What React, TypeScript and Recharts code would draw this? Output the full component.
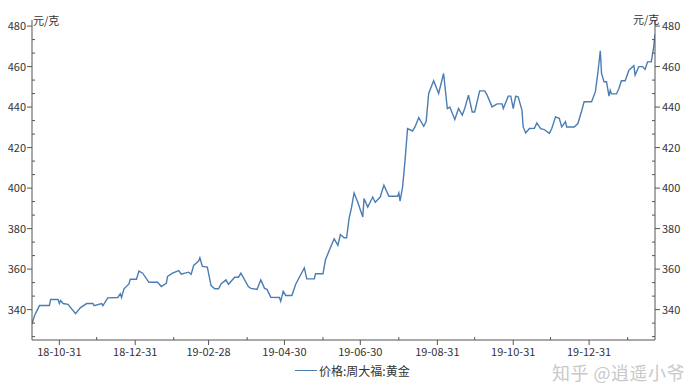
import React from 'react'
import { ComposedChart, Line, XAxis, YAxis, CartesianGrid } from 'recharts'

const C = { line: '#4a7db3', axis: '#555', text: '#333', grid: '#f0f0f0' }
const FONT = '"Noto Sans CJK SC", "DejaVu Sans", sans-serif'

const dates = [
  '2018-10-09', '2018-10-11', '2018-10-15', '2018-10-23', '2018-10-24', '2018-10-30', '2018-10-31', '2018-11-01',
  '2018-11-03', '2018-11-07', '2018-11-13', '2018-11-17', '2018-11-22', '2018-11-27', '2018-11-28', '2018-12-04',
  '2018-12-05', '2018-12-09', '2018-12-17', '2018-12-19', '2018-12-20', '2018-12-22', '2018-12-26', '2018-12-27',
  '2019-01-01', '2019-01-03', '2019-01-06', '2019-01-11', '2019-01-18', '2019-01-21', '2019-01-25', '2019-01-26',
  '2019-01-30', '2019-02-04', '2019-02-06', '2019-02-12', '2019-02-14', '2019-02-16', '2019-02-20', '2019-02-21',
  '2019-02-23', '2019-02-27', '2019-03-02', '2019-03-05', '2019-03-08', '2019-03-10', '2019-03-14', '2019-03-16',
  '2019-03-21', '2019-03-24', '2019-03-26', '2019-04-01', '2019-04-03', '2019-04-08', '2019-04-11', '2019-04-14',
  '2019-04-16', '2019-04-19', '2019-04-26', '2019-04-27', '2019-04-29', '2019-05-01', '2019-05-06', '2019-05-09',
  '2019-05-12', '2019-05-16', '2019-05-18', '2019-05-24', '2019-05-25', '2019-05-31', '2019-06-02', '2019-06-05',
  '2019-06-09', '2019-06-12', '2019-06-14', '2019-06-17', '2019-06-19', '2019-06-21', '2019-06-23', '2019-06-25',
  '2019-06-28', '2019-07-02', '2019-07-03', '2019-07-06', '2019-07-10', '2019-07-12', '2019-07-16', '2019-07-19',
  '2019-07-23', '2019-07-30', '2019-07-31', '2019-08-01', '2019-08-03', '2019-08-05', '2019-08-07', '2019-08-11',
  '2019-08-13', '2019-08-16', '2019-08-20', '2019-08-22', '2019-08-24', '2019-08-28', '2019-09-01', '2019-09-05',
  '2019-09-08', '2019-09-10', '2019-09-14', '2019-09-17', '2019-09-20', '2019-09-22', '2019-09-25', '2019-09-28',
  '2019-09-30', '2019-10-04', '2019-10-08', '2019-10-10', '2019-10-14', '2019-10-18', '2019-10-22', '2019-10-23',
  '2019-10-27', '2019-10-29', '2019-10-31', '2019-11-02', '2019-11-04', '2019-11-07', '2019-11-08', '2019-11-10',
  '2019-11-13', '2019-11-17', '2019-11-19', '2019-11-22', '2019-11-25', '2019-11-29', '2019-12-01', '2019-12-04',
  '2019-12-07', '2019-12-09', '2019-12-12', '2019-12-13', '2019-12-19', '2019-12-22', '2019-12-25', '2019-12-27',
  '2020-01-02', '2020-01-05', '2020-01-07', '2020-01-09', '2020-01-10', '2020-01-12', '2020-01-14', '2020-01-16',
  '2020-01-17', '2020-01-18', '2020-01-22', '2020-01-24', '2020-01-26', '2020-01-29', '2020-02-01', '2020-02-05',
  '2020-02-06', '2020-02-09', '2020-02-12', '2020-02-14', '2020-02-16', '2020-02-19', '2020-02-21', '2020-02-22',
]

// 价格:周大福:黄金, 元/克
const prices = [
  333, 337, 342, 342, 345, 345, 343, 344.5,
  343, 342.6, 338, 341, 343, 343, 342, 343,
  342, 345.8, 346, 347.8, 346, 350.3, 352.7, 355,
  355, 359, 358, 353.5, 353.5, 351.4, 353, 356.4,
  358, 359.3, 357.5, 358.5, 357.5, 361.8, 364, 365.6,
  361.3, 361, 351.9, 350.3, 350.3, 352.7, 354.7, 352.5,
  356, 356, 358, 351.4, 350.5, 350, 354.7, 350.5,
  350, 346.1, 346, 344.1, 349, 347, 347, 352.4,
  356, 360.6, 355.2, 355.2, 357.7, 357.7, 364.6, 369.2,
  375, 371.7, 377.1, 375.5, 375.5, 385, 390.6, 397.6,
  393, 385.7, 394.8, 390.6, 395.6, 393, 395.6, 401.4,
  396, 396, 397.6, 393.6, 400.5, 413.7, 429.4, 428.2,
  430.2, 434.8, 430.5, 433, 446.7, 453, 446.7, 456.6,
  439.3, 440, 433.9, 439.3, 436, 439.3, 445.9, 437.6,
  437.6, 448, 448, 445.9, 440.1, 441.6, 441.6, 439.3,
  445.4, 445.4, 439.3, 445.4, 445, 438.5, 430.2, 427.2,
  429.4, 429.5, 432.2, 429.4, 428.9, 427, 429.4, 435.2,
  434.5, 430.2, 432.8, 430.2, 430.2, 431.9, 438.1, 442.6,
  442.6, 447.5, 456.6, 467.8, 456.6, 452.5, 452.5, 445.4,
  448.3, 446.5, 446.5, 449.2, 453, 453, 458.2, 460.4,
  455.8, 460, 460, 458.6, 462.3, 462.3, 469.8, 476,
]

const xTickDates = [
  '2018-10-31', '2018-11-30', '2018-12-31', '2019-01-31', '2019-02-28', '2019-03-31', '2019-04-30', '2019-05-31',
  '2019-06-30', '2019-07-31', '2019-08-31', '2019-09-30', '2019-10-31', '2019-11-30', '2019-12-31', '2020-01-31',
]
const xLabelDates = ['2018-10-31', '2018-12-31', '2019-02-28', '2019-04-30', '2019-06-30', '2019-08-31', '2019-10-31', '2019-12-31']
const yMajorTicks = [340, 360, 380, 400, 420, 440, 460, 480]
const xDomainDates = ['2018-10-09', '2020-02-22']
const yDomain = [325, 483]

const ts = (d: string) => Date.parse(d + 'T00:00:00Z')
const data = dates.map((d, i) => ({ t: ts(d), price: prices[i] }))
const labelTs = xLabelDates.map(ts)
const fmtDate = (v: number) => new Date(v).toISOString().slice(2, 10)

// minor ticks split each 20 step in thirds
const yTicks: number[] = []
yMajorTicks.forEach((m) => {
  yTicks.push(m)
  yTicks.push(m - 20 / 3, m - 40 / 3)
})
const yTicksIn = yTicks.filter((v) => v > yDomain[0] && v <= yDomain[1]).sort((a, b) => a - b)
const isMajor = (v: number) => yMajorTicks.includes(v)

const TS = 5
const TM = 3

const LeftTick = ({ x, y, payload }: any) => {
  const ax = x + TS + TM
  if (!isMajor(payload.value)) return <line x1={ax} x2={ax + 3} y1={y} y2={y} stroke={C.axis} />
  return (
    <g>
      <line x1={ax - 5} x2={ax} y1={y} y2={y} stroke={C.axis} />
      <text x={ax - 6} y={y} dy={4} textAnchor="end" fill={C.text} fontSize={11} fontFamily={FONT}>{payload.value}</text>
    </g>
  )
}

const RightTick = ({ x, y, payload }: any) => {
  const ax = x - TS - TM
  if (!isMajor(payload.value)) return <line x1={ax - 3} x2={ax} y1={y} y2={y} stroke={C.axis} />
  return (
    <g>
      <line x1={ax} x2={ax + 5} y1={y} y2={y} stroke={C.axis} />
      <text x={ax + 7} y={y} dy={4} textAnchor="start" fill={C.text} fontSize={11} fontFamily={FONT}>{payload.value}</text>
    </g>
  )
}

const BottomTick = ({ x, y, payload }: any) => {
  const ay = y - TS - TM
  if (!labelTs.includes(payload.value)) return <line x1={x} x2={x} y1={ay - 3} y2={ay} stroke={C.axis} />
  return (
    <g>
      <line x1={x} x2={x} y1={ay} y2={ay + 5} stroke={C.axis} />
      <text x={x} y={ay + 16} textAnchor="middle" fill={C.text} fontSize={11} fontFamily={FONT}>{fmtDate(payload.value)}</text>
    </g>
  )
}

export default function App() {
  return (
    <div style={{ position: 'absolute', left: 0, top: 0, width: 699, height: 387, background: '#fff', overflow: 'hidden', fontFamily: FONT }}>
      <ComposedChart width={699} height={387} data={data} margin={{ top: 20, right: 0, bottom: 23, left: 0 }}>
        <CartesianGrid vertical={false} stroke={C.grid} horizontalValues={yMajorTicks} />
        <XAxis dataKey="t" type="number" scale="time" domain={xDomainDates.map(ts)} ticks={xTickDates.map(ts)}
          tickSize={TS} tickMargin={TM} tickLine={false} tick={<BottomTick />} stroke={C.axis} height={24}
          interval={0} allowDataOverflow />
        <YAxis yAxisId="l" orientation="left" domain={yDomain} ticks={yTicksIn} width={32} tickSize={TS} tickMargin={TM}
          tickLine={false} tick={<LeftTick />} stroke={C.axis} interval={0} allowDataOverflow />
        <YAxis yAxisId="r" orientation="right" domain={yDomain} ticks={yTicksIn} width={44} tickSize={TS} tickMargin={TM}
          tickLine={false} tick={<RightTick />} stroke={C.axis} interval={0} allowDataOverflow />
        <Line yAxisId="l" dataKey="price" type="linear" stroke={C.line} strokeWidth={1.4} dot={false} isAnimationActive={false} />
      </ComposedChart>
      <div style={{ position: 'absolute', left: 33, top: 12, fontSize: 11, color: C.text }}>元/克</div>
      <div style={{ position: 'absolute', left: 633, top: 11, fontSize: 11, color: C.text }}>元/克</div>
      <div style={{ position: 'absolute', left: 295, top: 362, display: 'flex', alignItems: 'center', fontSize: 12, color: C.text }}>
        <span style={{ display: 'inline-block', width: 22, height: 0, borderTop: `1.5px solid ${C.line}`, marginRight: 2 }} />
        价格:周大福:黄金
      </div>
      <div style={{ position: 'absolute', left: 552, top: 362, fontSize: 18, lineHeight: '20px', color: '#c9c9c9', letterSpacing: 0.5,
        textShadow: '0 0 2px #fff, 0 0 2px #fff' }}>
        知乎 @逍遥小爷
      </div>
    </div>
  )
}
